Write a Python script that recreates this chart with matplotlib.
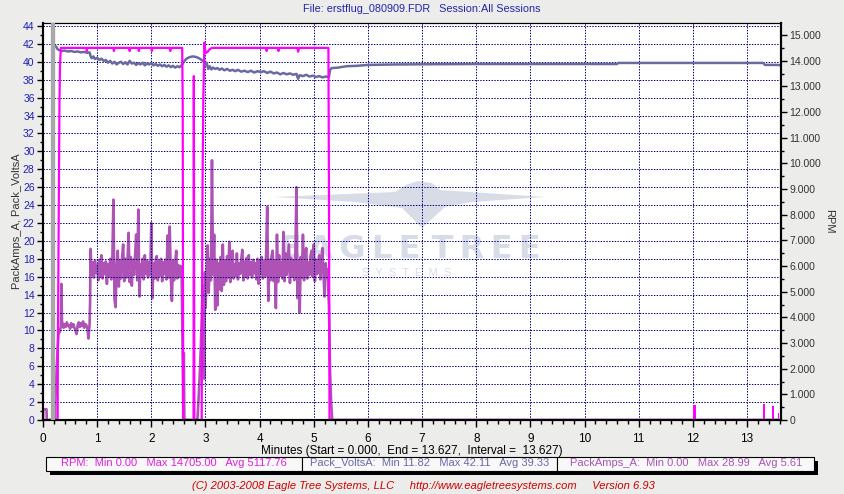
import matplotlib
matplotlib.use("Agg")
import matplotlib.pyplot as plt
from matplotlib.patches import Rectangle, Polygon
from matplotlib.ticker import MultipleLocator, FuncFormatter
import numpy as np

plt.rcParams['font.family'] = ['Liberation Sans', 'DejaVu Sans']

W, H = 845, 494

# ---------------- data ----------------
t_end = 13.627

# PackAmps_A (left axis)
amps_start_t = [0.0, 0.005, 0.065, 0.07, 0.225, 0.23, 0.24, 0.25, 0.26, 0.27, 0.29, 0.31, 0.33, 0.34, 0.35]
amps_start_v = [0.0, 1.2, 1.2, 0.0, 0.0, 2.5, 3.5, 5.5, 6.6, 8.0, 10.0, 9.8, 10.5, 15.2, 11.0]
# 0.36 .. 0.86 min, every 0.02
amps_idle = [10.8, 10.3, 10.7, 10.4, 10.9, 10.5, 10.6, 10.2, 10.8, 10.4,
             10.7, 10.3, 10.0, 9.6, 10.6, 10.9, 10.4, 10.8, 10.5, 11.0,
             10.3, 10.7, 10.6, 10.2, 9.1, 10.7]
amps_step_t = [0.87, 0.875, 0.88, 0.89]
amps_step_v = [13.3, 17.0, 19.1, 16.8]
# 0.90 .. 2.56 min, every 0.02
amps_cruise1 = [16.2, 17.6, 15.9, 17.8, 16.4, 17.3, 15.6, 17.9, 16.1, 18.4,
                15.8, 17.5, 16.3, 17.7, 15.2, 17.4, 16.0, 18.0, 15.7, 17.6,
                24.6, 13.5, 12.6, 17.2, 18.9, 14.9, 17.8, 15.8, 18.1, 19.6,
                15.5, 18.0, 15.9, 17.7, 20.9, 15.4, 18.2, 15.0, 17.9, 16.2,
                18.3, 20.7, 15.6, 23.5, 13.8, 17.4, 16.0, 18.0, 15.7, 18.4,
                16.3, 17.8, 15.9, 17.6, 16.2, 22.0, 13.6, 17.5, 15.8, 17.9,
                18.3, 15.6, 17.7, 16.1, 18.0, 15.5, 17.6, 16.3, 17.9, 15.7,
                20.6, 15.9, 21.6, 16.0, 13.3, 17.8, 15.6, 17.5, 18.9, 15.8,
                17.3, 16.0, 17.2, 16.4]
amps_gap_t = [2.565, 2.575, 2.585, 2.59, 2.60, 2.61, 2.85, 2.87, 2.89, 2.91,
              2.93, 2.95, 2.97, 2.98, 2.99, 3.00]
amps_gap_v = [14.0, 10.0, 4.0, 0.0, 7.5, 0.0, 0.0, 2.0, 4.5, 7.5,
              11.0, 15.0, 12.0, 4.6, 16.5, 12.5]
# 3.02 .. 5.26 min, every 0.02
amps_cruise2 = [15.8, 19.5, 14.2, 18.0, 15.6, 29.0, 16.2, 20.7, 12.3, 17.9,
                12.8, 17.5, 14.6, 18.2, 14.4, 19.6, 15.1, 17.8, 15.5, 18.3,
                15.9, 19.9, 15.4, 17.6, 18.9, 15.8, 17.4, 16.1, 18.6, 15.7,
                17.5, 16.3, 17.9, 19.0, 15.6, 17.7, 16.0, 18.1, 15.8, 18.4,
                16.2, 17.6, 15.9, 17.9, 16.4, 17.5, 15.7, 18.0, 15.2, 17.8,
                16.3, 18.2, 15.8, 17.7, 16.0, 18.5, 23.8, 13.3, 17.9, 15.6,
                18.3, 18.9, 15.5, 17.8, 12.5, 20.7, 15.4, 18.4, 16.1, 17.6,
                15.8, 21.0, 15.5, 18.6, 16.2, 17.9, 19.6, 15.3, 18.1, 16.0,
                17.8, 15.6, 18.4, 26.0, 13.6, 17.7, 12.0, 18.2, 15.9, 20.7,
                15.6, 18.0, 19.2, 15.8, 17.6, 16.2, 18.3, 18.9, 16.0, 19.6,
                15.5, 17.9, 16.3, 17.6, 18.4, 15.7, 17.8, 19.2, 16.0, 13.8,
                17.5, 15.9, 16.8]
amps_end_t = [5.27, 5.28, 5.29, 5.30, 5.31, 5.32, 5.34, t_end]
amps_end_v = [14.0, 12.8, 9.0, 5.5, 3.9, 2.0, 0.0, 0.0]

# Pack_VoltsA (left axis)
volts_t = [0.21, 0.24, 0.27, 0.30, 0.34, 0.40, 0.46, 0.52, 0.58, 0.64,
           0.70, 0.76, 0.82, 0.86, 0.88, 0.90, 0.93, 0.96, 1.00, 1.04,
           1.08, 1.12, 1.16, 1.20, 1.24, 1.28, 1.32, 1.36, 1.40, 1.44,
           1.48, 1.52, 1.56, 1.60, 1.64, 1.68, 1.72, 1.76, 1.80, 1.84,
           1.88, 1.92, 1.96, 2.00, 2.04, 2.08, 2.12, 2.16, 2.20, 2.24,
           2.28, 2.32, 2.36, 2.40, 2.44, 2.48, 2.52, 2.56, 2.60, 2.65,
           2.70, 2.76, 2.82, 2.88, 2.93, 2.97, 3.00, 3.02, 3.05, 3.08,
           3.11, 3.14, 3.18, 3.22, 3.26, 3.30, 3.35, 3.40, 3.45, 3.50,
           3.55, 3.60, 3.66, 3.72, 3.78, 3.84, 3.90, 3.96, 4.02, 4.08,
           4.14, 4.20, 4.26, 4.32, 4.38, 4.44, 4.50, 4.56, 4.62, 4.68,
           4.71, 4.74, 4.80, 4.86, 4.92, 4.98, 5.04, 5.10, 5.16, 5.22,
           5.28, 5.30, 5.33, 5.45, 5.60, 5.80, 6.00, 6.50, 7.00, 8.00,
           10.60, 10.62, 13.30, 13.33, 13.55, t_end]
volts_v = [41.8, 41.7, 41.4, 41.3, 41.2, 41.25, 41.15, 41.2, 41.1, 41.15,
           41.05, 41.1, 41.0, 41.05, 40.6, 40.4, 40.6, 40.3, 40.45, 40.2,
           40.35, 40.1, 40.2, 39.9, 40.1, 39.8, 40.0, 39.7, 39.9, 40.0,
           39.75, 39.95, 39.7, 40.1, 39.8, 39.9, 39.65, 39.85, 39.7, 39.9,
           39.6, 39.8, 39.7, 39.85, 39.6, 39.75, 39.55, 39.7, 39.5, 39.65,
           39.45, 39.6, 39.4, 39.55, 39.35, 39.5, 39.4, 39.6, 40.0, 40.35,
           40.5, 40.6, 40.55, 40.4, 40.2, 40.0, 39.7, 39.9, 39.2, 39.5,
           39.15, 39.35, 39.2, 39.3, 39.1, 39.25, 39.05, 39.2, 39.0, 39.1,
           38.95, 39.1, 38.9, 39.0, 38.85, 39.0, 38.8, 38.95, 38.85, 38.95,
           38.75, 38.9, 38.7, 38.8, 38.6, 38.75, 38.6, 38.7, 38.55, 38.65,
           38.1, 38.5, 38.4, 38.55, 38.35, 38.45, 38.3, 38.4, 38.25, 38.35,
           38.3, 39.1, 39.3, 39.35, 39.5, 39.55, 39.65, 39.7, 39.72, 39.75,
           39.75, 39.87, 39.87, 39.65, 39.65, 39.6]

# RPM (right axis)
rpm_t = [0.0, 0.27, 0.275, 0.285, 0.295, 0.305, 0.315, 0.33, 0.80, 0.81,
         0.82, 1.30, 1.31, 1.32, 1.59, 1.60, 1.61, 1.76, 1.77, 1.78,
         2.00, 2.01, 2.02, 2.34, 2.35, 2.36, 2.57, 2.58, 2.585, 2.59,
         2.78, 2.785, 2.795, 2.93, 2.945, 2.96, 2.98, 3.00, 3.04, 3.08,
         3.12, 4.12, 4.13, 4.14, 4.34, 4.35, 4.36, 4.70, 4.71, 4.73,
         5.27, 5.28, 5.29, t_end]
rpm_v = [0, 0, 3000, 6200, 9500, 12600, 13900, 14500, 14500, 14380,
         14500, 14500, 14380, 14500, 14500, 14380, 14500, 14500, 14380, 14500,
         14500, 14380, 14500, 14500, 14380, 14500, 14500, 12300, 5000, 0,
         0, 13400, 0, 0, 9000, 12500, 14705, 14300, 14350, 14450,
         14500, 14500, 14380, 14500, 14500, 14380, 14500, 14500, 14350, 14500,
         14500, 9000, 0, 0]
# short RPM bursts after landing
burst_t = [11.975, 12.0, 13.30, 13.47, 13.57]
burst_w = [0.012, 0.065, 0.04, 0.03, 0.025]
burst_rpm = [680, 600, 640, 560, 280]

stats = [("RPM:  Min 0.00   Max 14705.00   Avg 5117.76", '#E020E0'),
         ("Pack_VoltsA:  Min 11.82   Max 42.11   Avg 39.33", '#6A6AA8'),
         ("PackAmps_A:  Min 0.00   Max 28.99   Avg 5.61", '#A855B5')]

amps_t = np.concatenate([amps_start_t, np.linspace(0.36, 0.86, len(amps_idle)),
                         amps_step_t, np.linspace(0.90, 2.56, len(amps_cruise1)),
                         amps_gap_t, np.linspace(3.02, 5.26, len(amps_cruise2)),
                         amps_end_t])
amps_v = np.concatenate([amps_start_v, amps_idle, amps_step_v, amps_cruise1,
                         amps_gap_v, amps_cruise2, amps_end_v])

# ---------------- figure ----------------
bg = '#ECECEA'
fig = plt.figure(figsize=(W / 100, H / 100), dpi=100, facecolor=bg)


def fx(px):
    return px / W


def fy(py):
    return 1 - py / H


ax = fig.add_axes([fx(43), fy(420), (781 - 43) / W, (420 - 23) / H])
ax.set_facecolor('white')
ax2 = ax.twinx()

# watermark (behind grid and data)
wm = '#D8DCE6'
wing = [(275, 197), (395, 192), (406, 185), (418, 181), (432, 183), (440, 190),
        (545, 197), (472, 202), (445, 207), (422, 228), (402, 208), (355, 202)]
ax.add_patch(Polygon([(fx(x), fy(y)) for x, y in wing], closed=True,
                     transform=fig.transFigure, facecolor=wm, edgecolor='none', zorder=0.6))
ax.text(fx(410), fy(249), "E\u2009A\u2009G\u2009L\u2009E T\u2009R\u2009E\u2009E",
        transform=fig.transFigure, ha='center', va='center',
        fontsize=23, fontweight='bold', family='DejaVu Sans', color=wm, zorder=0.7)
ax.text(fx(407), fy(273), "S  Y  S  T  E  M  S", transform=fig.transFigure, ha='center',
        va='center', fontsize=8, color=wm, zorder=0.7)

ax.plot(amps_t, amps_v, color='#AF52B5', lw=1.9, zorder=2)
ax.plot(volts_t, volts_v, color='#6A6AA0', lw=1.8, zorder=3)

ax2.plot(rpm_t, rpm_v, color='#FF00FF', lw=1.6, zorder=2)
ax2.bar(burst_t, burst_rpm, width=burst_w, align='edge', color='#FF00FF', zorder=2)
ax2.axvspan(0.145, 0.205, color='#A8A8A8', zorder=5)

ax.set_xlim(0, t_end)
ax.set_ylim(0, 44.33)
ax2.set_ylim(0, 15470)

ax.set_xticks(range(14))
ax.xaxis.set_minor_locator(MultipleLocator(0.2))
ax.set_yticks(range(0, 45, 2))
ax.yaxis.set_minor_locator(MultipleLocator(1))
ax2.set_yticks(range(0, 15001, 1000))
ax2.yaxis.set_minor_locator(MultipleLocator(500))
ax2.yaxis.set_major_formatter(FuncFormatter(lambda v, p: f"{int(v):,}".replace(',', '.')))

ax.grid(True, which='major', color='#000080', linestyle=(0, (1.4, 1.4)), linewidth=0.72)
ax.set_axisbelow(False)
for gl in ax.get_xgridlines() + ax.get_ygridlines():
    gl.set_zorder(1)

ax.tick_params(axis='x', which='major', length=5, width=1, pad=4, labelsize=8.5, colors='black')
ax.tick_params(axis='x', which='minor', length=3, width=1)
ax.tick_params(axis='y', which='major', length=4, width=1, pad=2, labelsize=7.5, labelcolor='#1E1EB4')
ax.tick_params(axis='y', which='minor', length=2, width=1)
ax2.tick_params(axis='y', which='major', length=4, width=1, pad=2, labelsize=7.5, labelcolor='#333333')
ax2.tick_params(axis='y', which='minor', length=2, width=1)

for a in (ax, ax2):
    for side in ('left', 'bottom', 'right'):
        a.spines[side].set_linewidth(1.5)
    a.spines['top'].set_linewidth(0.8)

ax.set_ylabel("PackAmps_A, Pack_VoltsA", fontsize=8, color='#333333', labelpad=1)
ax2.set_ylabel("RPM", fontsize=8, color='#333333', rotation=-90, labelpad=9)
ax.set_xlabel("Minutes (Start = 0.000,  End = 13.627,  Interval =  13.627)",
              fontsize=8.5, labelpad=0)

fig.text(fx(422), fy(9), "File: erstflug_080909.FDR   Session:All Sessions",
         ha='center', va='center', fontsize=7.8, color='#2424A8')

# stats strip with drop shadow
box_edges = [45.7, 301.7, 557.3, 814.3]
fig.patches.append(Rectangle((fx(50), fy(474.5)), (818.5 - 50) / W, (474.5 - 461) / H,
                             transform=fig.transFigure, facecolor='black', edgecolor='none'))
for (txt, col), x0, x1 in zip(stats, box_edges[:-1], box_edges[1:]):
    fig.patches.append(Rectangle((fx(x0), fy(470.5)), (x1 - x0) / W, (470.5 - 457) / H,
                                 transform=fig.transFigure, facecolor='#F8F8F8',
                                 edgecolor='black', linewidth=0.8))
    fig.text(fx((x0 + x1) / 2), fy(463.5), txt, ha='center', va='center',
             fontsize=8, color=col)

fig.text(fx(423), fy(486),
         "(C) 2003-2008 Eagle Tree Systems, LLC     http://www.eagletreesystems.com     Version 6.93",
         ha='center', va='center', fontsize=8, style='italic', color='#CC0000')

fig.savefig('out.png', dpi=100, facecolor=bg)
